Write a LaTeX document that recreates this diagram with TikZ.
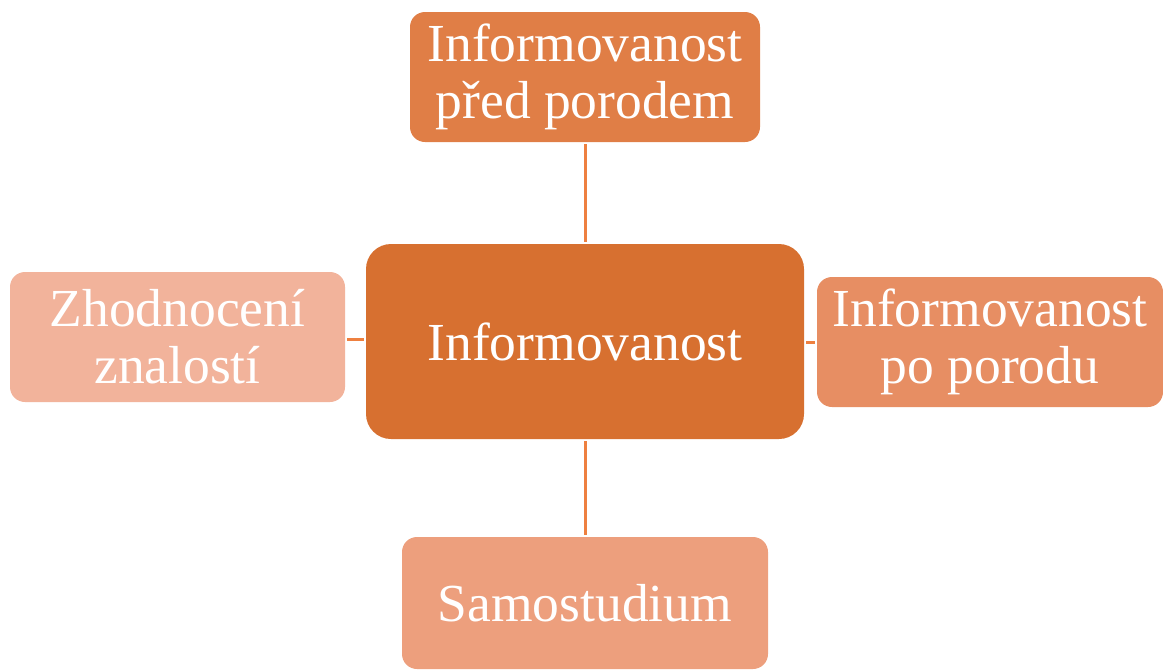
\documentclass[tikz,border=0pt]{standalone}
\usepackage{fontspec}
\setmainfont{Liberation Serif}
\definecolor{cmain}{HTML}{D77030}
\definecolor{ctop}{HTML}{E07E46}
\definecolor{cleft}{HTML}{F2B39B}
\definecolor{cright}{HTML}{E78E63}
\definecolor{cbot}{HTML}{ED9F7D}
\definecolor{cline}{HTML}{EE8040}
\tikzset{
  box/.style={rounded corners=15pt, inner sep=0pt, text=white, align=center,
    font=\fontsize{53.5}{57}\selectfont},
  conn/.style={draw=cline, line width=3pt, shorten >=2pt, shorten <=2pt}
}
\begin{document}
\begin{tikzpicture}[x=1pt,y=-1pt]
\useasboundingbox (0,0) rectangle (1163,670);
\node[box, fill=cmain, rounded corners=25pt, minimum width=438pt, minimum height=195pt] (c) at (585,341.5) {Informovanost};
\node[box, fill=ctop, minimum width=350pt, minimum height=130pt] (t) at (585,77) {Informovanost\\před porodem};
\node[box, fill=cleft, minimum width=335pt, minimum height=130pt] (l) at (177.5,337) {Zhodnocení\\znalostí};
\node[box, fill=cright, minimum width=346pt, minimum height=130pt] (r) at (990,342) {Informovanost\\po porodu};
\node[box, fill=cbot, minimum width=366pt, minimum height=132pt] (b) at (585,603) {Samostudium};
\draw[conn] (t.south) -- (c.north);
\draw[conn] (c.south) -- (b.north);
\draw[conn] (l.east |- 0,339) -- (c.west |- 0,339);
\draw[conn] (c.east |- 0,342) -- (r.west |- 0,342);
\end{tikzpicture}
\end{document}
